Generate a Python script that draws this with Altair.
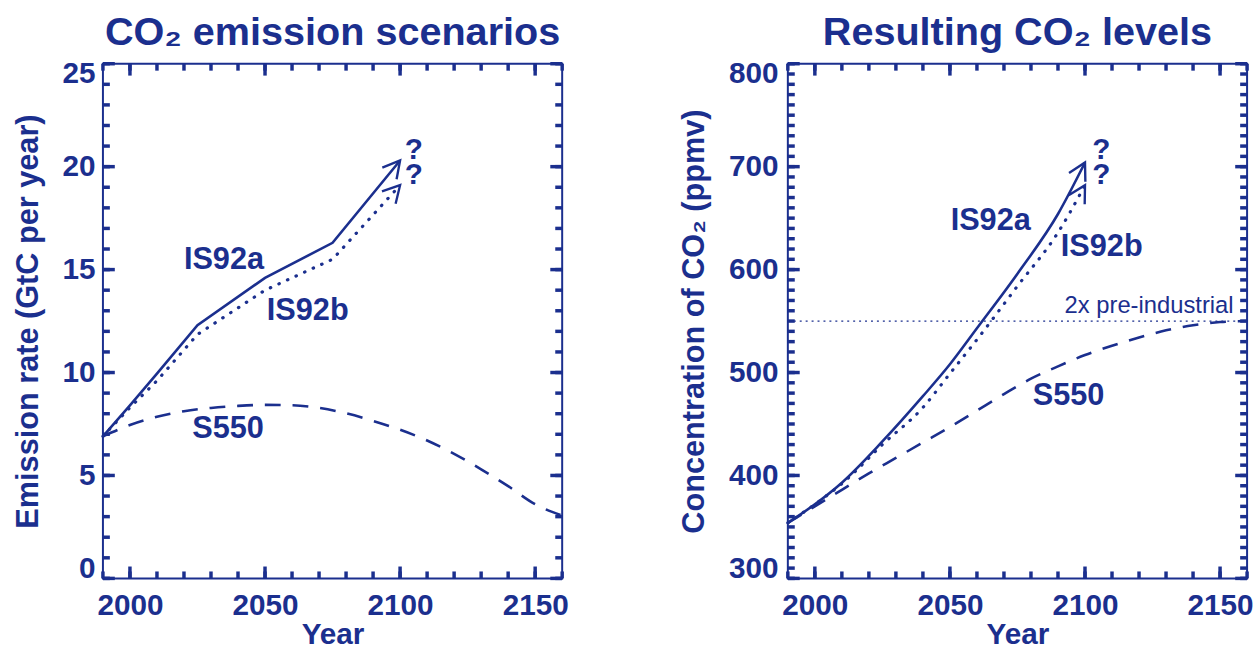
import math
import altair as alt
import pandas as pd

NAVY = "#1b2f8e"
FONT = "Liberation Sans"

YEAR_DOMAIN = [1990, 2160]
PLOT_W = 464
PLOT_H = 520

# ---- CO2 emission scenarios (GtC per year) ----
EM_A_YEARS = [1990, 2000, 2010, 2025, 2050, 2075, 2100]
EM_A_VALUES = [6.9, 8.4, 9.95, 12.3, 14.6, 16.3, 20.3]
EM_B_YEARS = [1990, 2000, 2010, 2025, 2050, 2075, 2100]
EM_B_VALUES = [6.9, 8.3, 9.6, 11.85, 14.0, 15.5, 19.1]
EM_S_YEARS = [1990, 2000, 2010, 2020, 2030, 2040, 2050, 2060, 2070,
              2080, 2090, 2100, 2110, 2120, 2130, 2140, 2150, 2160]
EM_S_VALUES = [6.9, 7.45, 7.85, 8.12, 8.28, 8.38, 8.43, 8.41, 8.28,
               8.02, 7.65, 7.22, 6.7, 6.05, 5.3, 4.48, 3.6, 3.05]

# ---- resulting CO2 concentration (ppmv) ----
CO_A_YEARS = [1990, 2000, 2010, 2025, 2040, 2050, 2060, 2075, 2090, 2100]
CO_A_VALUES = [354, 372, 393, 433, 477, 508, 543, 596, 654, 704]
CO_B_YEARS = [1990, 2000, 2010, 2025, 2040, 2050, 2060, 2075, 2090, 2100]
CO_B_VALUES = [354, 372, 392, 430, 466, 499, 532, 584, 636, 682]
CO_S_YEARS = EM_S_YEARS
CO_S_VALUES = [354, 370, 386, 402, 417, 432, 447, 463, 479,
               494, 506, 517, 526, 534, 541, 546, 549, 550]
STABILISATION = 550

# ---- annotations ----
EM_LABELS = ["IS92a", "IS92b", "S550"]
EM_LABEL_X = [2034.8, 2065.8, 2036.3]
EM_LABEL_Y = [15.54, 13.06, 7.33]
EM_Q_X = [2105.1, 2105.1]
EM_Q_Y = [20.9, 19.7]

CO_LABELS = ["IS92a", "IS92b", "S550"]
CO_LABEL_X = [2065.1, 2106.2, 2093.9]
CO_LABEL_Y = [649.5, 624.0, 478.8]
CO_Q_X = [2106.0, 2106.0]
CO_Q_Y = [718.0, 694.0]
STAB_TEXT = "2x pre-industrial"
STAB_TEXT_X = 2155.0
STAB_TEXT_Y = 557.5

X_MAJOR = [2000, 2050, 2100, 2150]
X_MINOR = list(range(1990, 2161, 10))

# open arrowhead, tip at the origin, pointing along +x
CHEVRON = "M -1 -0.55 L 0 0 L -1 0.55"

# inward tick stubs (lengths in pixels)
MAJOR_LEN = 12
MINOR_LEN = 7
TICK_WIDTH = 3.5


def head_angle(xs, ys, y_domain):
    """Screen-space direction of the last segment, in degrees clockwise."""
    dx = (xs[-1] - xs[-2]) * PLOT_W / (YEAR_DOMAIN[1] - YEAR_DOMAIN[0])
    dy = -(ys[-1] - ys[-2]) * PLOT_H / (y_domain[1] - y_domain[0])
    return math.degrees(math.atan2(dy, dx)) % 360


def panel(title, y_domain, y_major, y_minor, y_title, y_pad,
          a, b, s, labels, qmarks, interp, stab=False):
    xs = alt.Scale(domain=YEAR_DOMAIN, nice=False, zero=False)
    ys = alt.Scale(domain=y_domain, nice=False, zero=False)
    x_per_px = (YEAR_DOMAIN[1] - YEAR_DOMAIN[0]) / PLOT_W
    y_per_px = (y_domain[1] - y_domain[0]) / PLOT_H

    def enc(x_axis=None, y_axis=None):
        return dict(
            x=alt.X("year:Q", scale=xs, axis=x_axis),
            y=alt.Y("value:Q", scale=ys, axis=y_axis),
        )

    x_axis = alt.Axis(
        orient="bottom", values=X_MAJOR, format="d", ticks=False, domain=False,
        grid=False, labelFont=FONT, labelFontSize=30, labelFontWeight="bold",
        labelColor=NAVY, labelPadding=12, title="Year", titleFont=FONT,
        titleFontSize=30, titleFontWeight="bold", titleColor=NAVY, titlePadding=0,
    )
    y_axis = alt.Axis(
        orient="left", values=y_major, format="d", ticks=False, domain=False,
        grid=False, labelFont=FONT, labelFontSize=30, labelFontWeight="bold",
        labelColor=NAVY, labelPadding=y_pad, labelFlush=True, labelFlushOffset=5,
        title=y_title, titleFont=FONT, titleFontSize=31, titleFontWeight="bold",
        titleColor=NAVY, titlePadding=18,
    )

    layers = []

    def ticks(values, side, length):
        n = len(values)
        if side in ("bottom", "top"):
            edge = y_domain[0] if side == "bottom" else y_domain[1]
            inner = edge + (length * y_per_px if side == "bottom" else -length * y_per_px)
            df = pd.DataFrame({"year": values, "value": [edge] * n, "value2": [inner] * n})
            return alt.Chart(df).mark_rule(color=NAVY, strokeWidth=TICK_WIDTH, opacity=1).encode(
                x=alt.X("year:Q", scale=xs, axis=None),
                y=alt.Y("value:Q", scale=ys, axis=None),
                y2="value2:Q",
            )
        edge = YEAR_DOMAIN[0] if side == "left" else YEAR_DOMAIN[1]
        inner = edge + (length * x_per_px if side == "left" else -length * x_per_px)
        df = pd.DataFrame({"year": [edge] * n, "year2": [inner] * n, "value": values})
        return alt.Chart(df).mark_rule(color=NAVY, strokeWidth=TICK_WIDTH, opacity=1).encode(
            x=alt.X("year:Q", scale=xs, axis=None),
            x2="year2:Q",
            y=alt.Y("value:Q", scale=ys, axis=None),
        )

    for side in ("bottom", "top"):
        layers.append(ticks(X_MINOR, side, MINOR_LEN))
        layers.append(ticks(X_MAJOR, side, MAJOR_LEN))
    for side in ("left", "right"):
        layers.append(ticks(y_minor, side, MINOR_LEN))
        layers.append(ticks(y_major, side, MAJOR_LEN))

    if stab:
        layers.append(alt.Chart(pd.DataFrame({"value": [STABILISATION]})).mark_rule(
            color=NAVY, strokeWidth=1.3, strokeDash=[2, 4]
        ).encode(y=alt.Y("value:Q", scale=ys, axis=None)))
        layers.append(alt.Chart(pd.DataFrame({
            "year": [STAB_TEXT_X], "value": [STAB_TEXT_Y], "label": [STAB_TEXT]
        })).mark_text(
            font=FONT, fontSize=24, color=NAVY, align="right", baseline="alphabetic"
        ).encode(text="label:N", **enc()))

    layers.append(alt.Chart(pd.DataFrame({"year": a[0], "value": a[1]})).mark_line(
        color=NAVY, strokeWidth=2.6, interpolate=interp
    ).encode(**enc(x_axis, y_axis)))
    layers.append(alt.Chart(pd.DataFrame({"year": b[0], "value": b[1]})).mark_line(
        color=NAVY, strokeWidth=3.2, strokeDash=[0.5, 9], strokeCap="round",
        interpolate=interp
    ).encode(**enc()))
    layers.append(alt.Chart(pd.DataFrame({"year": s[0], "value": s[1]})).mark_line(
        color=NAVY, strokeWidth=2.6, strokeDash=[16, 12], interpolate="monotone"
    ).encode(**enc()))

    layers.append(alt.Chart(pd.DataFrame({
        "year": labels[1], "value": labels[2], "label": labels[0]
    })).mark_text(
        font=FONT, fontSize=31, fontWeight="bold", color=NAVY,
        align="center", baseline="middle", dy=2
    ).encode(text="label:N", **enc()))

    layers.append(alt.Chart(pd.DataFrame({
        "year": qmarks[0], "value": qmarks[1], "label": ["?"] * len(qmarks[0])
    })).mark_text(
        font=FONT, fontSize=30, fontWeight="bold", color=NAVY,
        align="center", baseline="middle", dy=2
    ).encode(text="label:N", **enc()))

    tips = pd.DataFrame({
        "year": [a[0][-1], b[0][-1]],
        "value": [a[1][-1], b[1][-1]],
        "angle": [head_angle(a[0], a[1], y_domain), head_angle(b[0], b[1], y_domain)],
    })
    layers.append(alt.Chart(tips).mark_point(
        shape=CHEVRON, filled=False, color=NAVY, strokeWidth=2.4,
        size=1150, opacity=1
    ).encode(angle=alt.Angle("angle:Q", scale=None), **enc()))

    return alt.layer(*layers).resolve_axis(
        x="independent", y="independent"
    ).properties(
        width=PLOT_W, height=PLOT_H,
        title=alt.TitleParams(
            title, font=FONT, fontSize=40, fontWeight="bold", color=NAVY,
            anchor="middle", frame="group", offset=6,
        ),
    )


left = panel(
    "CO₂ emission scenarios", [0, 25], list(range(0, 26, 5)), list(range(0, 26)),
    "Emission rate (GtC per year)", 8,
    (EM_A_YEARS, EM_A_VALUES), (EM_B_YEARS, EM_B_VALUES), (EM_S_YEARS, EM_S_VALUES),
    (EM_LABELS, EM_LABEL_X, EM_LABEL_Y), (EM_Q_X, EM_Q_Y), "linear",
)

right = panel(
    "Resulting CO₂ levels", [300, 800], list(range(300, 801, 100)), list(range(300, 801, 10)),
    "Concentration of CO₂ (ppmv)", 10,
    (CO_A_YEARS, CO_A_VALUES), (CO_B_YEARS, CO_B_VALUES), (CO_S_YEARS, CO_S_VALUES),
    (CO_LABELS, CO_LABEL_X, CO_LABEL_Y), (CO_Q_X, CO_Q_Y), "monotone", stab=True,
)

chart = alt.hconcat(left, right, spacing=108).configure_view(
    stroke=NAVY, strokeWidth=2
).properties(
    padding={"left": 11, "top": 9, "right": 0, "bottom": 0},
    background="white",
)

chart.save("out.html", embed_options={"renderer": "svg", "actions": False})
